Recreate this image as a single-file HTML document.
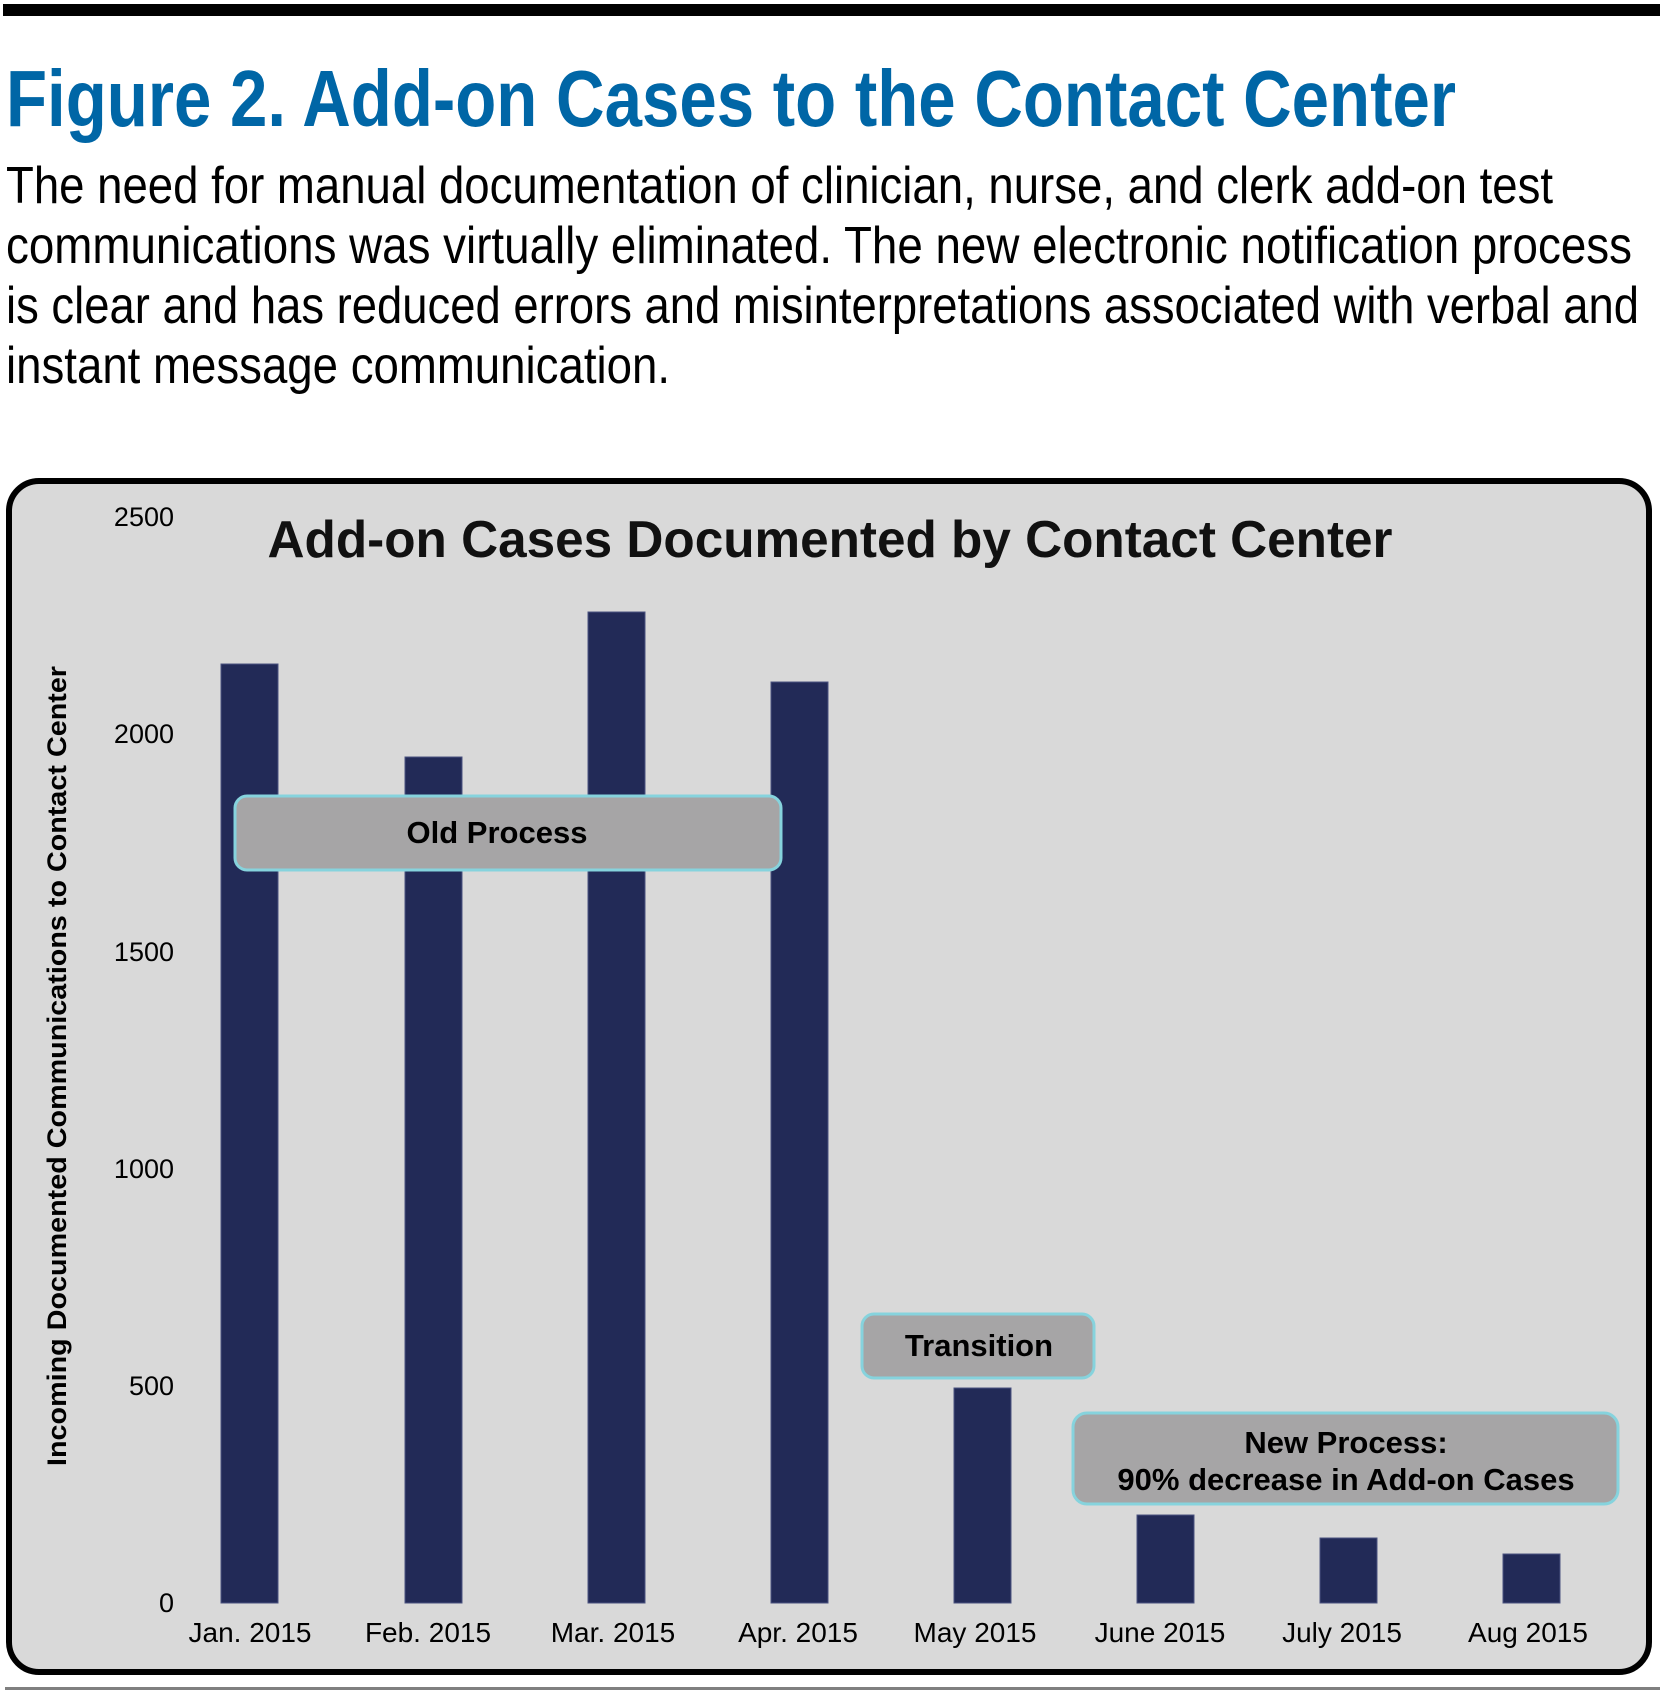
<!DOCTYPE html>
<html><head><meta charset="utf-8"><style>
html,body{margin:0;padding:0;background:#fff;}
svg{display:block;}
</style></head><body>
<svg width="1660" height="1696" viewBox="0 0 1660 1696" xmlns="http://www.w3.org/2000/svg" font-family="Liberation Sans, sans-serif">
<rect x="3" y="4" width="1657" height="12" fill="#000"/>
<text x="6" y="126" font-size="80" font-weight="bold" fill="#0066a6" textLength="1450" lengthAdjust="spacingAndGlyphs">Figure 2. Add-on Cases to the Contact Center</text>
<g font-size="52" fill="#000">
<text x="6" y="203" textLength="1547" lengthAdjust="spacingAndGlyphs">The need for manual documentation of clinician, nurse, and clerk add-on test</text>
<text x="6" y="263" textLength="1626" lengthAdjust="spacingAndGlyphs">communications was virtually eliminated. The new electronic notification process</text>
<text x="6" y="323" textLength="1633" lengthAdjust="spacingAndGlyphs">is clear and has reduced errors and misinterpretations associated with verbal and</text>
<text x="6" y="383" textLength="664" lengthAdjust="spacingAndGlyphs">instant message communication.</text>
</g>
<rect x="9" y="481" width="1640" height="1191" rx="30" fill="#d9d9d9" stroke="#000" stroke-width="6"/>
<text x="830" y="557" font-size="52" font-weight="bold" text-anchor="middle" fill="#111" textLength="1125" lengthAdjust="spacingAndGlyphs">Add-on Cases Documented by Contact Center</text>
<g font-size="27" fill="#000" text-anchor="end">
<text x="174" y="526">2500</text>
<text x="174" y="743">2000</text>
<text x="174" y="961">1500</text>
<text x="174" y="1178">1000</text>
<text x="174" y="1395">500</text>
<text x="174" y="1612">0</text>
</g>
<text transform="translate(66,1066) rotate(-90)" font-size="27" font-weight="bold" text-anchor="middle" textLength="800" lengthAdjust="spacingAndGlyphs">Incoming Documented Communications to Contact Center</text>
<g fill="#222a57" stroke="#4a5280" stroke-width="1">
<rect x="221" y="664" width="57" height="939"/>
<rect x="405" y="757" width="57" height="846"/>
<rect x="588" y="612" width="57" height="991"/>
<rect x="771" y="682" width="57" height="921"/>
<rect x="954" y="1388" width="57" height="215"/>
<rect x="1137" y="1515" width="57" height="88"/>
<rect x="1320" y="1538" width="57" height="65"/>
<rect x="1503" y="1554" width="57" height="49"/>
</g>
<g font-size="28" text-anchor="middle" fill="#000">
<text x="250" y="1642">Jan. 2015</text>
<text x="428" y="1642">Feb. 2015</text>
<text x="613" y="1642">Mar. 2015</text>
<text x="798" y="1642">Apr. 2015</text>
<text x="975" y="1642">May 2015</text>
<text x="1160" y="1642">June 2015</text>
<text x="1342" y="1642">July 2015</text>
<text x="1528" y="1642">Aug 2015</text>
</g>
<rect x="235" y="796" width="546" height="74" rx="12" fill="#a6a5a6" stroke="#86d3dd" stroke-width="3"/>
<text x="497" y="843" font-size="31" font-weight="bold" text-anchor="middle">Old Process</text>
<rect x="862" y="1314" width="232" height="64" rx="12" fill="#a6a5a6" stroke="#86d3dd" stroke-width="3"/>
<text x="979" y="1356" font-size="31" font-weight="bold" text-anchor="middle">Transition</text>
<rect x="1073" y="1413" width="545" height="91" rx="14" fill="#a6a5a6" stroke="#86d3dd" stroke-width="3"/>
<text x="1346" y="1453" font-size="31" font-weight="bold" text-anchor="middle">New Process:</text>
<text x="1346" y="1490" font-size="31" font-weight="bold" text-anchor="middle">90% decrease in Add-on Cases</text>
<rect x="5" y="1687" width="1655" height="3" fill="#808080"/>
</svg>
</body></html>
